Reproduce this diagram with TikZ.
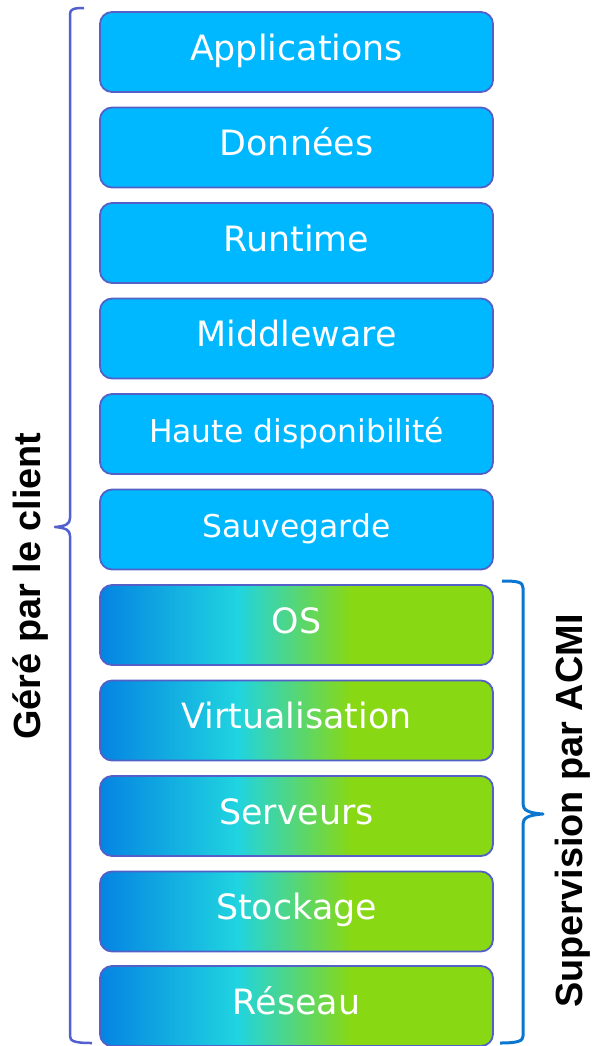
\documentclass[tikz,border=0pt]{standalone}
\usepackage{fontspec}
\setmainfont{DejaVu Sans}
\newfontfamily\labelfont{Liberation Sans}
\begin{document}
\definecolor{topfill}{RGB}{0,184,255}
\definecolor{boxline}{RGB}{82,96,200}
\definecolor{gA}{RGB}{4,132,226}
\definecolor{gB}{RGB}{32,212,224}
\definecolor{gC}{RGB}{136,216,20}
\definecolor{braceL}{RGB}{82,96,208}
\definecolor{braceR}{RGB}{10,118,208}
\pgfdeclarehorizontalshading{stackgrad}{100bp}{color(0bp)=(gA); color(25bp)=(gA); color(42.5bp)=(gB); color(57bp)=(gC); color(75bp)=(gC); color(100bp)=(gC)}
\tikzset{
  layer/.style={draw=boxline, line width=1.8bp, rounded corners=12bp,
    minimum width=393bp, minimum height=80bp, inner sep=0pt,
    text height=26pt, text depth=9pt, text=white, align=center,
    font=\fontsize{35}{40}\selectfont},
  toplayer/.style={layer, fill=topfill},
  lowlayer/.style={layer, shading=stackgrad},
  smalltext/.style={font=\fontsize{31.5}{36}\selectfont},
  sidelabel/.style={rotate=90, font=\labelfont\bfseries\fontsize{38}{42}\selectfont, text=black, inner sep=0pt}
}
\begin{tikzpicture}[x=1bp,y=-1bp]
\useasboundingbox (0,0) rectangle (595,1046);
\node[toplayer] (b1) at (296.5,52) {Applications};
\node[toplayer] (b2) at (296.5,147.5) {Données};
\node[toplayer] (b3) at (296.5,243) {Runtime};
\node[toplayer] (b4) at (296.5,338.5) {Middleware};
\node[toplayer, smalltext] (b5) at (296.5,434) {Haute disponibilité};
\node[toplayer, smalltext] (b6) at (296.5,529.5) {Sauvegarde};
\node[lowlayer] (b7) at (296.5,625) {OS};
\node[lowlayer] (b8) at (296.5,720.5) {Virtualisation};
\node[lowlayer] (b9) at (296.5,816) {Serveurs};
\node[lowlayer] (b10) at (296.5,911.5) {Stockage};
\node[lowlayer] (b11) at (296.5,1006) {Réseau};
% left brace
\draw[braceL, line width=2.5bp, line join=round]
  (84,8) .. controls (74,8) and (70,9) .. (70,14) -- (70,518)
  .. controls (70,524) and (66,526) .. (55,527)
  .. controls (66,528) and (70,530) .. (70,536) -- (70,1036)
  .. controls (70,1041) and (74,1043) .. (92,1043);
% right brace
\draw[braceR, line width=3bp, line join=round]
  (502,581) .. controls (518,581) and (523,582) .. (523,588) -- (523,804)
  .. controls (523,810) and (528,813) .. (543,814)
  .. controls (528,815) and (523,818) .. (523,824) -- (523,1036)
  .. controls (523,1041) and (518,1043) .. (500,1043);
\node[sidelabel] (lclient) at (31,586) {Géré par le client};
\node[sidelabel] (lacmi) at (573,811) {Supervision par ACMI};
\end{tikzpicture}
\end{document}
